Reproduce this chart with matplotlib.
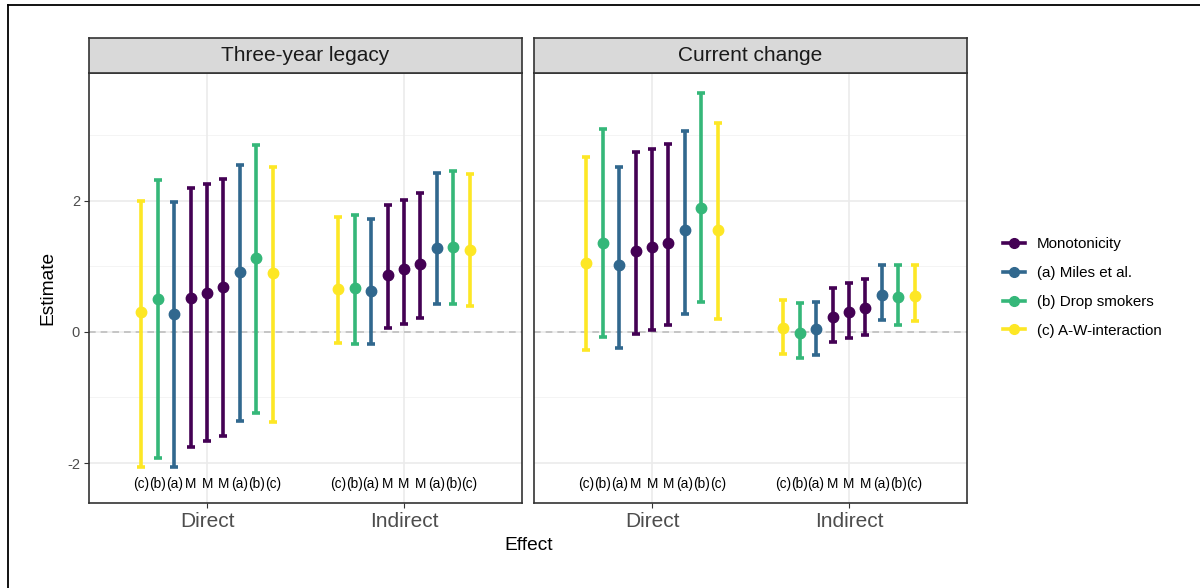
import numpy as np
import matplotlib
matplotlib.use("Agg")
import matplotlib.pyplot as plt
from matplotlib.lines import Line2D

plt.rcParams['font.family'] = ['Liberation Sans', 'DejaVu Sans']

# ---- data ----------------------------------------------------------------
panels = ["Three-year legacy", "Current change"]
effects = ["Direct", "Indirect"]
spec_labels = ["(c)", "(b)", "(a)", "M", "M", "M", "(a)", "(b)", "(c)"]
spec_method = ["c", "b", "a", "M", "M", "M", "a", "b", "c"]

legacy_direct_est = [0.30, 0.50, 0.27, 0.51, 0.59, 0.68, 0.92, 1.13, 0.90]
legacy_direct_lo = [-2.06, -1.93, -2.06, -1.75, -1.66, -1.59, -1.36, -1.24, -1.38]
legacy_direct_hi = [2.00, 2.32, 1.98, 2.20, 2.26, 2.33, 2.55, 2.85, 2.51]

legacy_indirect_est = [0.65, 0.67, 0.63, 0.87, 0.96, 1.04, 1.28, 1.29, 1.25]
legacy_indirect_lo = [-0.17, -0.18, -0.18, 0.06, 0.12, 0.21, 0.43, 0.42, 0.40]
legacy_indirect_hi = [1.75, 1.79, 1.72, 1.94, 2.02, 2.12, 2.43, 2.46, 2.41]

current_direct_est = [1.05, 1.35, 1.02, 1.23, 1.29, 1.35, 1.55, 1.89, 1.55]
current_direct_lo = [-0.27, -0.08, -0.24, -0.03, 0.03, 0.10, 0.27, 0.45, 0.20]
current_direct_hi = [2.67, 3.09, 2.51, 2.74, 2.79, 2.86, 3.07, 3.65, 3.18]

current_indirect_est = [0.06, -0.01, 0.04, 0.23, 0.30, 0.36, 0.56, 0.53, 0.55]
current_indirect_lo = [-0.33, -0.40, -0.35, -0.16, -0.10, -0.04, 0.18, 0.11, 0.16]
current_indirect_hi = [0.48, 0.44, 0.46, 0.67, 0.74, 0.80, 1.02, 1.02, 1.02]

method_names = ["Monotonicity", "(a) Miles et al.", "(b) Drop smokers", "(c) A-W-interaction"]
method_keys = ["M", "a", "b", "c"]
method_colors = {"M": "#440154", "a": "#31688E", "b": "#35B779", "c": "#FDE725"}

panel_data = [
    [(legacy_direct_est, legacy_direct_lo, legacy_direct_hi),
     (legacy_indirect_est, legacy_indirect_lo, legacy_indirect_hi)],
    [(current_direct_est, current_direct_lo, current_direct_hi),
     (current_indirect_est, current_indirect_lo, current_indirect_hi)],
]

label_y = -2.32

# ---- figure --------------------------------------------------------------
fig = plt.figure(figsize=(12, 5.88), dpi=100)

# outer frame (only top/left visible in the original)
fig.add_artist(Line2D([8/1200, 8/1200], [0, 1 - 4.5/588], color="black", lw=1.3))
fig.add_artist(Line2D([8/1200, 1], [1 - 4.5/588, 1 - 4.5/588], color="black", lw=1.3))

ax_left = [89/1200, 534/1200]
ax_w = 433/1200
ax_b = 1 - 503/588
ax_h = 430/588
strip_h = 35/588

dodge = 0.75 / 9
grey = "#333333"

for p, title in enumerate(panels):
    ax = fig.add_axes([ax_left[p], ax_b, ax_w, ax_h])
    ax.set_xlim(0.4, 2.6)
    ax.set_ylim(-2.61, 3.95)

    for y in [-1, 1, 3]:
        ax.axhline(y, color="#F2F2F2", lw=0.6, zorder=0)
    for y in [-2, 0, 2]:
        ax.axhline(y, color="#EBEBEB", lw=1.2, zorder=0)
    for x in [1, 2]:
        ax.axvline(x, color="#EBEBEB", lw=1.2, zorder=0)

    ax.axhline(0, color="#BEBEBE", lw=1.2, ls=(0, (4, 3)), zorder=1)

    for e in range(2):
        est, lo, hi = panel_data[p][e]
        for i in range(9):
            x = (e + 1) + (i - 4) * dodge
            col = method_colors[spec_method[i]]
            ax.errorbar(x, est[i], yerr=[[est[i] - lo[i]], [hi[i] - est[i]]],
                        fmt="o", color=col, ms=7.5, elinewidth=2.6,
                        capsize=2.9, capthick=2.6, zorder=3)
            ax.text(x, label_y, spec_labels[i], ha="center", va="center",
                    fontsize=9.8, color="black")

    ax.set_xticks([1, 2])
    ax.set_xticklabels(effects, fontsize=15, color="#4D4D4D")
    ax.set_yticks([-2, 0, 2])
    if p == 0:
        ax.set_yticklabels(["-2", "0", "2"], fontsize=10.5, color="#4D4D4D")
        ax.tick_params(axis="y", length=3.5, width=0.8, color=grey, pad=3)
    else:
        ax.tick_params(axis="y", length=0, labelleft=False)
    ax.tick_params(axis="x", length=3.5, width=0.8, color=grey, pad=3)
    for s in ax.spines.values():
        s.set_color(grey)
        s.set_linewidth(1.2)

    sax = fig.add_axes([ax_left[p], ax_b + ax_h, ax_w, strip_h])
    sax.set_facecolor("#D9D9D9")
    sax.set_xticks([])
    sax.set_yticks([])
    for s in sax.spines.values():
        s.set_color(grey)
        s.set_linewidth(1.2)
    sax.text(0.5, 0.5, title, ha="center", va="center", fontsize=15,
             color="#1A1A1A", transform=sax.transAxes)

fig.text(48/1200, 1 - 288/588, "Estimate", rotation=90, ha="center",
         va="center", fontsize=13.8)
fig.text(528.5/1200, 1 - 545/588, "Effect", ha="center", va="center",
         fontsize=13.8)

handles = [Line2D([0], [0], color=method_colors[k], lw=2.6, marker="o", ms=7)
           for k in method_keys]
fig.legend(handles, method_names, loc="center left",
           bbox_to_anchor=(989/1200, 1 - 287.5/588), frameon=False,
           fontsize=10.9, handlelength=1.5, labelspacing=0.97, handletextpad=0.75)

fig.savefig("out.png", dpi=100)
